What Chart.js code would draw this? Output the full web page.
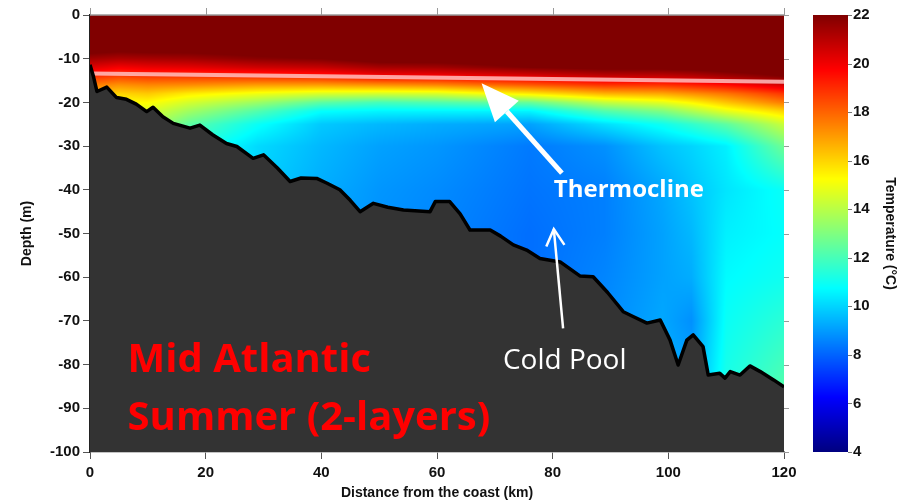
<!DOCTYPE html>
<html>
<head>
<meta charset="utf-8">
<script src="https://cdn.jsdelivr.net/npm/chart.js@4.4.1/dist/chart.umd.min.js"></script>
<style>
  html, body { margin: 0; padding: 0; background: #fff; }
</style>
</head>
<body>
<canvas id="sectionChart" width="905" height="504"></canvas>
<script>
// sea floor along the section (km offshore, depth m)
var bottomDist  = [0, 0.6, 1.2, 2.9, 4.6, 6.3, 8.0, 9.8, 10.9, 12.6, 14.4, 17.3, 19.0, 21.2, 23.6, 25.4, 28.2, 30.0, 32.4, 34.6, 36.5, 39.2, 41.0, 43.2, 45.0, 46.7, 49.0, 51.5, 54.2, 58.8, 59.7, 62.2, 64.0, 65.7, 69.2, 71.0, 73.2, 75.5, 77.8, 81.3, 84.7, 87.0, 89.5, 92.2, 93.9, 96.3, 98.6, 100.3, 101.7, 103.2, 104.3, 106.0, 106.9, 108.9, 109.8, 110.7, 112.4, 114.1, 115.9, 118.2, 120];
var bottomDepth = [-11.4, -14.1, -17.5, -16.5, -18.9, -19.3, -20.4, -22.1, -21.1, -23.3, -24.8, -25.9, -25.2, -27.4, -29.4, -30.1, -32.8, -32.0, -35.0, -38.1, -37.3, -37.4, -38.5, -40.0, -42.4, -45.0, -43.1, -44.0, -44.6, -45.0, -42.7, -42.7, -45.5, -49.2, -49.2, -50.6, -52.6, -53.8, -55.7, -56.5, -59.7, -59.9, -63.5, -67.9, -69.0, -70.5, -69.8, -74.4, -80.1, -74.4, -73.2, -75.9, -82.4, -82.0, -83.1, -81.6, -82.4, -80.3, -81.6, -83.5, -85.1];

// pink thermocline marker
var thermoDist  = [0, 120];
var thermoDepth = [-13.4, -15.3];

// temperature section (deg C): one row per station, one value per level
var stationDist = [0, 5, 10, 17, 29, 40, 50, 60, 76, 89, 99, 104, 110, 120];
var levelDepth  = [0, -8, -10, -12, -14, -16, -18, -20, -22, -25, -30, -40, -50, -60, -70, -85];
var tempGrid = [
  [23.0, 22.4, 21.4, 20.3, 19.0, 17.6, 16.5, 15.6, 15.0, 14.5, 14.0, 13.5, 13.0, 13.0, 13.0, 13.0],
  [23.0, 22.2, 21.2, 19.9, 18.6, 17.2, 16.0, 15.2, 14.6, 14.0, 13.5, 13.0, 13.0, 13.0, 13.0, 13.0],
  [23.0, 22.3, 21.3, 20.1, 18.8, 17.4, 16.2, 15.3, 14.6, 14.0, 13.5, 13.0, 13.0, 13.0, 13.0, 13.0],
  [23.0, 22.3, 21.4, 20.2, 18.8, 17.3, 15.6, 14.5, 13.6, 12.4, 11.4, 10.8, 10.5, 10.5, 10.5, 10.5],
  [23.5, 22.5, 21.8, 20.6, 19.0, 17.0, 15.0, 13.5, 12.2, 10.9, 10.1, 9.9, 9.8, 9.8, 9.8, 9.8],
  [23.5, 22.7, 22.0, 20.8, 19.2, 17.0, 14.6, 12.4, 10.8, 9.8, 9.5, 9.3, 9.2, 9.2, 9.2, 9.2],
  [23.5, 23.0, 22.5, 21.3, 19.8, 17.2, 14.5, 12.0, 10.6, 9.5, 9.1, 8.9, 8.8, 8.8, 8.8, 8.8],
  [23.5, 23.0, 22.5, 21.4, 19.8, 17.4, 14.6, 12.2, 10.6, 9.3, 8.9, 8.7, 8.6, 8.6, 8.6, 8.6],
  [23.5, 23.2, 22.8, 22.0, 20.3, 18.2, 15.6, 12.6, 10.6, 9.1, 8.4, 8.3, 8.2, 8.2, 8.2, 8.2],
  [23.5, 23.3, 23.0, 22.3, 20.8, 18.9, 16.6, 14.2, 12.2, 10.2, 8.8, 8.5, 8.5, 8.6, 8.7, 8.8],
  [23.5, 23.3, 23.0, 22.3, 20.8, 18.9, 16.8, 14.8, 13.0, 11.0, 9.7, 9.2, 9.1, 9.1, 9.2, 9.4],
  [23.5, 23.3, 23.0, 22.4, 21.0, 19.2, 17.2, 15.4, 13.8, 11.6, 10.0, 9.7, 9.5, 9.3, 8.8, 9.2],
  [23.5, 23.3, 23.1, 22.6, 21.4, 19.6, 17.7, 16.3, 14.8, 12.4, 10.5, 10.3, 10.5, 10.7, 10.9, 11.2],
  [23.5, 23.4, 23.2, 22.8, 22.0, 20.5, 18.8, 17.6, 16.0, 14.3, 12.7, 10.9, 10.8, 11.0, 11.5, 12.2]
];

var tempTicks = [4, 6, 8, 10, 12, 14, 16, 18, 20, 22];

function clamp01(v){ return v < 0 ? 0 : (v > 1 ? 1 : v); }

// matlab style jet, 4..22 degC
function jet(t){
  var f = clamp01((t - 4) / 18);
  return [
    Math.round(255 * clamp01(1.5 - Math.abs(4 * f - 3))),
    Math.round(255 * clamp01(1.5 - Math.abs(4 * f - 2))),
    Math.round(255 * clamp01(1.5 - Math.abs(4 * f - 1)))
  ];
}

function tempAt(d, z){
  var i = 0;
  while (i < stationDist.length - 2 && d > stationDist[i + 1]) i++;
  var j = 0;
  while (j < levelDepth.length - 2 && z < levelDepth[j + 1]) j++;
  var u = clamp01((d - stationDist[i]) / (stationDist[i + 1] - stationDist[i]));
  var v = clamp01((levelDepth[j] - z) / (levelDepth[j] - levelDepth[j + 1]));
  var a = tempGrid[i][j], b = tempGrid[i + 1][j];
  var c = tempGrid[i][j + 1], e = tempGrid[i + 1][j + 1];
  return (a * (1 - u) + b * u) * (1 - v) + (c * (1 - u) + e * u) * v;
}

// paints the temperature field under the datasets
var fieldPlugin = {
  id: 'tempField',
  beforeDatasetsDraw: function(chart){
    var xs = chart.scales.x, ys = chart.scales.y, area = chart.chartArea;
    var w = Math.round(area.right - area.left), h = Math.round(area.bottom - area.top);
    var off = document.createElement('canvas');
    off.width = w; off.height = h;
    var octx = off.getContext('2d');
    var img = octx.createImageData(w, h);
    for (var px = 0; px < w; px++){
      var d = xs.getValueForPixel(area.left + px + 0.5);
      for (var py = 0; py < h; py++){
        var z = ys.getValueForPixel(area.top + py + 0.5);
        var c = jet(tempAt(d, z));
        var k = (py * w + px) * 4;
        img.data[k] = c[0]; img.data[k + 1] = c[1]; img.data[k + 2] = c[2]; img.data[k + 3] = 255;
      }
    }
    octx.putImageData(img, 0, 0);
    chart.ctx.drawImage(off, area.left, area.top);
  }
};

function solidArrow(ctx, x1, y1, x2, y2, headLen, headHalf, shaft){
  var dx = x2 - x1, dy = y2 - y1, L = Math.sqrt(dx * dx + dy * dy);
  var ux = dx / L, uy = dy / L;
  var bx = x2 - ux * headLen, by = y2 - uy * headLen;
  ctx.lineWidth = shaft;
  ctx.beginPath(); ctx.moveTo(x1, y1); ctx.lineTo(bx, by); ctx.stroke();
  ctx.beginPath();
  ctx.moveTo(x2, y2);
  ctx.lineTo(bx - uy * headHalf, by + ux * headHalf);
  ctx.lineTo(bx + uy * headHalf, by - ux * headHalf);
  ctx.closePath(); ctx.fill();
}

function openArrow(ctx, x1, y1, x2, y2, arm, ang, width){
  var a = Math.atan2(y1 - y2, x1 - x2);
  ctx.lineWidth = width;
  ctx.beginPath(); ctx.moveTo(x1, y1); ctx.lineTo(x2, y2); ctx.stroke();
  ctx.beginPath();
  ctx.moveTo(x2 + arm * Math.cos(a + ang), y2 + arm * Math.sin(a + ang));
  ctx.lineTo(x2, y2);
  ctx.lineTo(x2 + arm * Math.cos(a - ang), y2 + arm * Math.sin(a - ang));
  ctx.stroke();
}

// labels and arrows on top of the section
var notesPlugin = {
  id: 'notes',
  afterDatasetsDraw: function(chart){
    var ctx = chart.ctx, xs = chart.scales.x, ys = chart.scales.y;
    var X = function(v){ return xs.getPixelForValue(v); };
    var Y = function(v){ return ys.getPixelForValue(v); };
    ctx.save();
    ctx.fillStyle = '#fff'; ctx.strokeStyle = '#fff'; ctx.lineCap = 'butt';
    solidArrow(ctx, X(81.6), Y(-36.2), X(67.7), Y(-15.6), 38, 16, 5);
    openArrow(ctx, X(81.8), Y(-71.7), X(80.2), Y(-49.0), 19, 0.5, 2.5);
    ctx.textAlign = 'left'; ctx.textBaseline = 'alphabetic';
    ctx.font = 'bold 24px "Open Sans"';
    ctx.fillText('Thermocline', X(80.2), Y(-41.6));
    ctx.font = '28px "Open Sans"';
    ctx.fillText('Cold Pool', X(71.4), Y(-81.1));
    ctx.fillStyle = '#ff0000';
    ctx.font = 'bold 40px "Open Sans"';
    ctx.fillText('Mid Atlantic', X(6.5), Y(-81.7));
    ctx.fillText('Summer (2-layers)', X(6.5), Y(-95.0));
    ctx.restore();
  },
  afterDraw: function(chart){
    var ctx = chart.ctx, area = chart.chartArea, xs = chart.scales.x, ys = chart.scales.y, cb = chart.scales.cb;
    ctx.save();
    // box: top and right edges with their small ticks
    ctx.strokeStyle = '#9a9a9a'; ctx.lineWidth = 1.5;
    ctx.beginPath();
    ctx.moveTo(area.left, area.top); ctx.lineTo(area.right, area.top);
    ctx.stroke();
    ctx.lineWidth = 1;
    ctx.beginPath();
    xs.ticks.forEach(function(t){ var x = Math.round(xs.getPixelForValue(t.value)) + 0.5; ctx.moveTo(x, area.top); ctx.lineTo(x, area.top - 7); });
    ys.ticks.forEach(function(t){ var y = Math.round(ys.getPixelForValue(t.value)) + 0.5; ctx.moveTo(area.right, y); ctx.lineTo(area.right + 5, y); });
    ctx.stroke();
    // colour bar
    var x0 = area.right + 29, bw = 35;
    for (var py = Math.floor(cb.top); py < Math.ceil(cb.bottom); py++){
      var c = jet(cb.getValueForPixel(py + 0.5));
      ctx.fillStyle = 'rgb(' + c[0] + ',' + c[1] + ',' + c[2] + ')';
      ctx.fillRect(x0, py, bw, 1);
    }
    ctx.strokeStyle = '#777';
    ctx.beginPath();
    tempTicks.forEach(function(t){ var y = Math.round(cb.getPixelForValue(t)) + 0.5; ctx.moveTo(x0 + bw, y); ctx.lineTo(x0 + bw + 4, y); });
    ctx.stroke();
    ctx.restore();
  }
};

var tickFont = { family: '"Liberation Sans", Arial, sans-serif', size: 15, weight: 'bold' };
var titleFont = { family: '"Liberation Sans", Arial, sans-serif', size: 14, weight: 'bold' };

var sectionConfig = {
  type: 'line',
  data: {
    datasets: [{
      label: 'Bottom',
      data: bottomDist.map(function(d, i){ return { x: d, y: bottomDepth[i] }; }),
      borderColor: '#000',
      borderWidth: 3.5,
      backgroundColor: '#333333',
      fill: 'start',
      pointRadius: 0,
      tension: 0,
      borderJoinStyle: 'round'
    }, {
      label: 'Thermocline',
      data: thermoDist.map(function(d, i){ return { x: d, y: thermoDepth[i] }; }),
      borderColor: 'rgba(255,190,190,0.85)',
      borderWidth: 4,
      pointRadius: 0,
      fill: false
    }]
  },
  options: {
    responsive: false,
    animation: false,
    layout: { padding: { top: 15, left: 0, right: 0, bottom: 0 } },
    plugins: { legend: { display: false }, tooltip: { enabled: false } },
    scales: {
      x: {
        type: 'linear', min: 0, max: 120,
        ticks: { stepSize: 20, font: tickFont, color: '#111', padding: 5, maxRotation: 0 },
        grid: { drawOnChartArea: false, tickLength: 7, color: '#555' },
        border: { color: '#888', width: 1.5 },
        title: { display: true, text: 'Distance from the coast (km)', font: titleFont, color: '#111', padding: { top: 0, bottom: 2 } },
        afterFit: function(axis){ axis.height = 52; }
      },
      y: {
        type: 'linear', min: -100, max: 0,
        ticks: { stepSize: 10, font: tickFont, color: '#111', padding: 3 },
        grid: { drawOnChartArea: false, tickLength: 7, color: '#555' },
        border: { color: '#222', width: 1.5 },
        title: { display: true, text: 'Depth (m)', font: titleFont, color: '#111', padding: { top: 19, bottom: 0 } },
        afterFit: function(axis){ axis.width = 90; }
      },
      cb: {
        type: 'linear', position: 'right', min: 4, max: 22,
        ticks: { stepSize: 2, font: tickFont, color: '#111', padding: 5 },
        grid: { drawOnChartArea: false, tickLength: 64, color: 'rgba(0,0,0,0)' },
        border: { display: false },
        title: { display: true, text: 'Temperature (°C)', font: titleFont, color: '#111', padding: { top: 7, bottom: 0 } },
        afterFit: function(axis){ axis.width = 121; }
      }
    }
  },
  plugins: [fieldPlugin, notesPlugin]
};

var sectionCtx = document.getElementById('sectionChart');
var sectionChart = new Chart(sectionCtx, sectionConfig);
</script>
</body>
</html>
